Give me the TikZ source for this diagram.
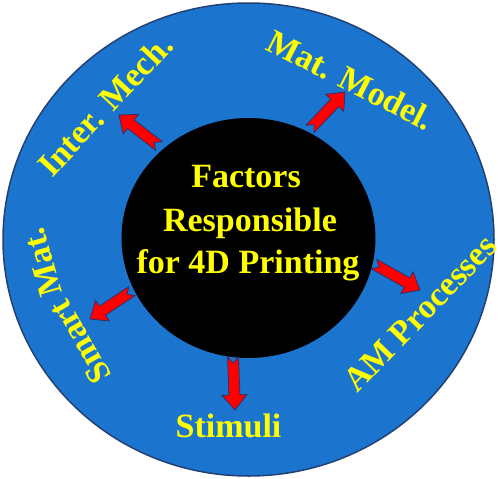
\documentclass[tikz,border=0pt]{standalone}
\usepackage{fontspec}
\setmainfont{Liberation Serif}
\usetikzlibrary{calc}
\definecolor{discblue}{RGB}{27,117,206}
\definecolor{rimblue}{RGB}{35,65,115}
\definecolor{arrowred}{RGB}{255,0,0}
\definecolor{edgeblue}{RGB}{30,50,110}
\definecolor{labelyellow}{RGB}{255,255,0}
\tikzset{
  lbl/.style={text=labelyellow, font=\fontsize{34}{43}\selectfont\bfseries, inner sep=0pt},
  barrow/.style={draw=edgeblue, line width=0.7pt, fill=arrowred, line join=miter,
    to path={let \p1=(\tikztostart), \p2=(\tikztotarget),
      \n1={atan2(\y2-\y1,\x2-\x1)}, \n2={veclen(\x2-\x1,\y2-\y1)} in
      ($(\p1)+(\n1+90:5.5pt)$)
      -- ($(\p1)+(\n1:\n2-15pt)+(\n1+90:5.5pt)$)
      -- ($(\p1)+(\n1:\n2-15pt)+(\n1+90:12.5pt)$)
      -- (\p2)
      -- ($(\p1)+(\n1:\n2-15pt)+(\n1-90:12.5pt)$)
      -- ($(\p1)+(\n1:\n2-15pt)+(\n1-90:5.5pt)$)
      -- ($(\p1)+(\n1-90:5.5pt)$)
      -- ($(\p1)+(\n1:6pt)$) -- cycle}}
}
\begin{document}
\begin{tikzpicture}[x=1pt,y=-1pt]
\useasboundingbox (0,0) rectangle (498,479);
% discs
\path[fill=discblue, draw=rimblue, line width=1.5pt] (248.5,239.5) ellipse [x radius=245.5, y radius=236.5];
\path[fill=black] (248.5,238) ellipse [x radius=127, y radius=120];
% centre text
\node[lbl, anchor=base] (f1) at (246,187) {Factors};
\node[lbl, anchor=base] (f2) at (250,231) {Responsible};
\node[lbl, anchor=base] (f3) at (248,273) {for 4D Printing};
% outer labels
\node[lbl, rotate=47] (inter) at (105,105) {Inter. Mech.};
\node[lbl, rotate=-27] (matmod) at (351,80) {Mat. Model.};
\node[lbl, rotate=46] (amp) at (420,313.5) {AM Processes};
\node[lbl, anchor=base] (stim) at (228.5,437) {Stimuli};
\node[lbl, rotate=120] (smart) at (80,342) {Smart};
\node[lbl, rotate=106] (smat) at (42.3,262) {Mat.};
% arrow ends
\coordinate (t1) at (159,146); \coordinate (h1) at (119,115);
\coordinate (t2) at (310,129); \coordinate (h2) at (345,92);
\coordinate (t3) at (374,264); \coordinate (h3) at (420,290);
\coordinate (t4) at (233,357); \coordinate (h4) at (235,410);
\coordinate (t5) at (132,291); \coordinate (h5) at (90,319);
\draw[barrow] (t1) to (h1);
\draw[barrow] (t2) to (h2);
\draw[barrow] (t3) to (h3);
\draw[barrow] (t4) to (h4);
\draw[barrow] (t5) to (h5);
\end{tikzpicture}
\end{document}
